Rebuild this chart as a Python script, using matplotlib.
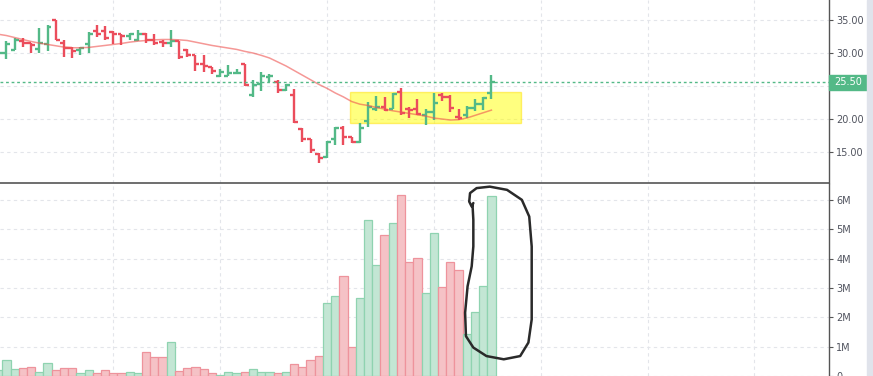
import numpy as np
import matplotlib.pyplot as plt
import matplotlib.transforms as mtransforms
from matplotlib.patches import Rectangle
from matplotlib.ticker import FuncFormatter

# [-- price data, one entry per bar (oldest first)
opens = [29.4, 30.0, 30.4, 31.8, 31.4, 30.5, 31.3, 34.95, 31.4, 30.7,
         30.35, 31.3, 33.3, 33.3, 33.1, 32.9, 32.5, 32.0, 32.9, 32.0,
         31.6, 31.4, 31.7, 30.4, 29.6, 28.3, 27.8, 26.4, 26.45, 26.85,
         28.3, 23.6, 25.3, 26.3, 25.5, 24.35, 23.55, 18.5, 16.9, 14.6,
         14.25, 17.0, 18.55, 17.27, 16.5, 19.7, 21.5, 21.8, 21.5, 24.1,
         21.5, 21.4, 20.55, 21.06, 23.6, 23.33, 20.3, 20.55, 21.6, 22.2, 23.85]
highs = [30.4, 31.7, 32.2, 32.2, 31.5, 33.7, 34.2, 34.95, 32.0, 30.8,
         30.8, 33.2, 34.2, 34.05, 33.3, 32.9, 33.0, 33.5, 33.0, 32.8,
         32.0, 33.4, 31.8, 30.5, 29.65, 29.65, 27.8, 27.6, 28.1, 27.6,
         28.3, 25.8, 27.1, 26.8, 25.8, 25.3, 24.45, 18.55, 17.0, 14.75,
         16.6, 18.7, 18.9, 17.3, 19.3, 22.6, 23.4, 23.25, 23.85, 24.6,
         21.7, 22.95, 21.4, 23.85, 23.95, 23.6, 21.4, 21.9, 22.95, 23.3, 26.6]
lows = [29.0, 29.1, 30.4, 30.8, 30.0, 29.9, 30.3, 32.0, 29.4, 29.2,
        29.7, 30.0, 32.4, 31.9, 31.3, 31.2, 31.9, 31.8, 31.5, 31.2,
        30.8, 30.8, 29.0, 29.3, 27.3, 27.1, 26.8, 26.3, 26.4, 26.8,
        24.95, 23.3, 24.2, 25.6, 23.9, 24.25, 19.4, 16.5, 14.75, 13.25,
        14.0, 16.0, 16.0, 16.35, 16.35, 18.8, 21.2, 21.2, 21.4, 20.55,
        20.05, 20.55, 19.05, 19.8, 22.7, 21.06, 19.8, 20.05, 21.2, 21.3, 22.95]
closes = [29.9, 31.3, 31.9, 31.5, 31.2, 31.5, 33.9, 32.0, 30.7, 30.3,
          30.7, 32.9, 32.9, 32.3, 32.9, 32.5, 32.8, 32.8, 32.0, 31.5,
          31.4, 31.7, 29.4, 29.65, 28.3, 28.0, 27.27, 27.1, 26.97, 26.95,
          25.1, 25.1, 26.4, 26.45, 24.35, 25.15, 19.45, 16.9, 15.25, 14.1,
          16.5, 18.55, 17.27, 16.5, 18.55, 21.7, 21.8, 21.3, 23.75, 20.8,
          21.35, 20.7, 21.06, 22.4, 23.33, 21.6, 20.05, 21.6, 22.2, 23.1, 25.5]
moving_avg = [32.8, 32.6, 32.3, 32.0, 31.7, 31.45, 31.25, 31.05, 30.85, 30.75,
              30.75, 30.8, 30.95, 31.1, 31.25, 31.4, 31.6, 31.75, 31.85, 31.95,
              32.0, 32.0, 31.95, 31.85, 31.6, 31.35, 31.1, 30.9, 30.7, 30.5,
              30.2, 29.95, 29.6, 29.2, 28.6, 28.0, 27.3, 26.6, 25.9, 25.2,
              24.6, 23.9, 23.3, 22.6, 22.2, 22.0, 21.7, 21.45, 21.2, 21.0,
              20.8, 20.6, 20.4, 20.1, 19.95, 19.8, 19.85, 20.1, 20.5, 20.9, 21.3]
volume_m = [0.19, 0.56, 0.25, 0.28, 0.32, 0.15, 0.45, 0.22, 0.28, 0.28,
            0.11, 0.22, 0.11, 0.22, 0.11, 0.11, 0.15, 0.11, 0.83, 0.66,
            0.66, 1.17, 0.18, 0.28, 0.32, 0.25, 0.11, 0.05, 0.15, 0.11,
            0.15, 0.25, 0.15, 0.15, 0.11, 0.15, 0.42, 0.32, 0.56, 0.69,
            2.50, 2.73, 3.41, 1.00, 2.67, 5.31, 3.79, 4.81, 5.22, 6.17,
            3.89, 4.03, 2.84, 4.88, 3.04, 3.89, 3.62, 1.44, 2.19, 3.07, 6.14]
last_price = 25.50
price_ticks = [15, 20, 25, 30, 35]
volume_ticks = [1, 2, 3, 4, 5, 6]
# highlighted consolidation zone (bar index / price)
zone_x = [42.8, 63.55]
zone_y = [19.3, 24.0]
# hand drawn loop around the last volume bars (bar index, volume in M)
loop_x = [57.8, 57.6, 57.3, 57.4, 58.2, 59.8, 61.9, 63.7, 64.6, 64.9, 64.9, 64.9,
          64.5, 63.5, 61.5, 59.4, 57.8, 56.9, 56.8, 57.1, 57.6, 57.8, 57.8, 57.7]
loop_y = [5.90, 5.78, 5.95, 6.24, 6.41, 6.46, 6.35, 6.01, 5.44, 4.42, 3.29, 1.93,
          1.14, 0.68, 0.57, 0.68, 0.97, 1.36, 2.16, 3.06, 3.74, 4.42, 5.33, 5.84]
# --]

GREEN, RED = '#53b987', '#eb4d5c'
TXT = '#50535e'
AXC = '#555555'

idx = np.arange(len(opens))
up = np.array(closes) >= np.array(opens)
bar_col = np.where(up, GREEN, RED)
vol_fill = np.where(up, '#c3e6d4', '#f5c2c6')
vol_edge = np.where(up, '#8fd3b0', '#ee939c')

W, H = 873, 376
fig = plt.figure(figsize=(W / 100, H / 100), dpi=100)
ax = fig.add_axes([0, (H - 183) / H, 828.7 / W, 183 / H])
axv = fig.add_axes([0, 0, 828.7 / W, 192 / H])

grid_x = np.arange(14, 101, 13)
for a in (ax, axv):
    a.set_xlim(0.22, 101.03)
    a.set_xticks(grid_x)
    a.set_axisbelow(True)
    a.grid(True, color='#e3e5ea', linestyle=(0, (3, 3)), linewidth=0.8)
    a.yaxis.tick_right()
    a.tick_params(axis='x', length=0, labelbottom=False)
    a.tick_params(axis='y', direction='out', length=3, width=0.8, color=AXC,
                  labelsize=7, labelcolor=TXT, pad=2.5)
    for s in ('top', 'left'):
        a.spines[s].set_visible(False)
    a.spines['right'].set_color(AXC)
    a.spines['right'].set_linewidth(1.0)

# price panel
ax.set_ylim(30 - (183 - 52.7) / 6.6, 30 + 52.7 / 6.6)
ax.set_yticks(price_ticks)
ax.set_yticklabels(['' if t == 25 else f'{t:.2f}' for t in price_ticks])
ax.spines['bottom'].set_color(AXC)
ax.spines['bottom'].set_linewidth(1.2)

ax.add_patch(Rectangle((zone_x[0], zone_y[0]), zone_x[1] - zone_x[0], zone_y[1] - zone_y[0],
                       facecolor='#ffff00', alpha=0.5, edgecolor='#ffe000', lw=1, zorder=1.5))
ax.plot(idx, moving_avg, color='#ef5350', alpha=0.6, lw=1.1, zorder=3)
ax.vlines(idx, lows, highs, colors=bar_col, lw=1.7, zorder=2)
ax.hlines(opens, idx - 0.48, idx, colors=bar_col, lw=1.7, zorder=2)
ax.hlines(closes, idx, idx + 0.48, colors=bar_col, lw=1.7, zorder=2)
ax.axhline(last_price, color=GREEN, lw=1, linestyle=(0, (2, 2)), zorder=4)

blend = mtransforms.blended_transform_factory(ax.transAxes, ax.transData)
ax.add_patch(Rectangle((1.0, last_price - 1.17), 38 / 828.7, 2.34, transform=blend,
                       color=GREEN, clip_on=False, zorder=6))
ax.text(1.0 + 19 / 828.7, last_price, f'{last_price:.2f}', transform=blend,
        color='white', fontsize=7, ha='center', va='center', zorder=7)

# volume panel
axv.set_ylim(0, 6.55)
axv.set_yticks([0] + volume_ticks)
axv.yaxis.set_major_formatter(FuncFormatter(lambda v, p: '0' if v == 0 else f'{v:.0f}M'))
axv.spines['bottom'].set_visible(False)
axv.bar(idx, volume_m, width=1.0, color=vol_fill, edgecolor=vol_edge, linewidth=0.9, zorder=2)
axv.plot(loop_x, loop_y, color='#2a2a2a', lw=1.8, solid_joinstyle='round',
         solid_capstyle='round', clip_on=False, zorder=6)

# right border strip
fig.patches.append(Rectangle((867 / W, 0), 6 / W, 1, transform=fig.transFigure,
                             color='#e0e3eb', zorder=0))

fig.savefig('out.png', dpi=100)
